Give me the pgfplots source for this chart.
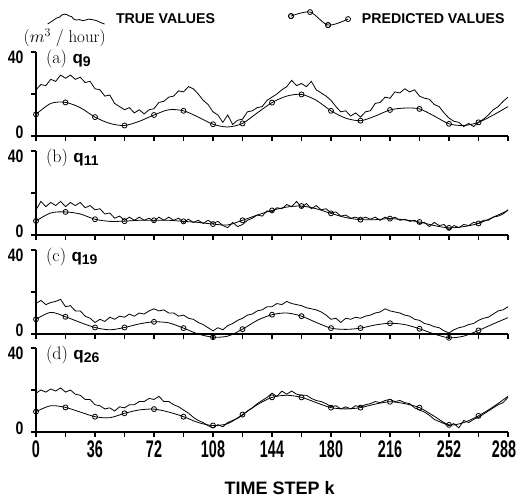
\documentclass[border=0pt]{standalone}
\usepackage{pgfplots}
\pgfplotsset{compat=1.18}
\usepackage{fontspec}
\setsansfont{Liberation Sans}
\newfontfamily\xtickfont{Liberation Sans}[FakeStretch=0.6]
\newfontfamily\ytickfont{Liberation Sans}[FakeStretch=0.78]

\pgfplotsset{
  panel/.style={
    scale only axis, width=472pt, height=84pt,
    xmin=0, xmax=288, ymin=0, ymax=40,
    axis x line=bottom, axis y line=left,
    axis line style={-, line width=1.1pt},
    clip=false,
    xtick={0,18,...,288}, xticklabel=\empty,
    ytick={0,20,40}, yticklabels={0,,40},
    tick align=outside, major tick length=5pt,
    tick style={line width=1.1pt, black},
    yticklabel style={font=\ytickfont\bfseries\fontsize{18}{18}\selectfont,
      xshift=-4pt, yshift={(\ticknum==0)*9pt-5pt}},
    xticklabel style={font=\xtickfont\bfseries\fontsize{24}{24}\selectfont},
  },
  truev/.style={black, line width=0.8pt, mark=none},
  predv/.style={black, line width=0.8pt, smooth, mark=o, mark size=2.5pt,
    mark options={solid, line width=0.8pt},
    mark indices={1,3,5,7,9,11,13,15,17,19,21,23,25,27,29,31}},
}
\tikzset{plab/.style={anchor=west, font=\fontsize{18}{18}\selectfont}}
\newcommand{\qlab}[1]{{\sffamily\bfseries\fontsize{17}{17}\selectfont q}\raisebox{-0.3ex}{\sffamily\bfseries\fontsize{14}{14}\selectfont #1}}

\begin{document}
\begin{tikzpicture}
\useasboundingbox (-36pt,-364pt) rectangle (482pt,136pt);

% (a) q9
\begin{axis}[panel, at={(0pt,0pt)}, anchor=south west,
  legend columns=2,
  legend style={draw=none, fill=none, at={(0.017,1.536)}, anchor=north west,
    font=\sffamily\bfseries\fontsize{14.2}{16}\selectfont,
    /tikz/every odd column/.append style={column sep=9pt},
    /tikz/every even column/.append style={column sep=71pt}},
  ]
\addplot[truev,
  legend image code/.code={\draw[line width=0.8pt] plot coordinates {(0pt,-5pt)(3pt,-3pt)(6pt,-1pt)(9pt,1pt)(12pt,2pt)(14pt,4pt)(17pt,5pt)(19pt,4.5pt)(22pt,3pt)(24pt,2.5pt)(26pt,0pt)(29pt,-1pt)(32pt,-0.5pt)(35pt,-1.5pt)(38pt,-1pt)(41pt,0pt)(44pt,-0.5pt)(47pt,-1pt)(50pt,-2pt)(53pt,-3.5pt)(57pt,-5pt)};}
  ] coordinates {
(0,22) (3,24.5) (6,24) (9,27) (12,26) (15,29) (18,27.5) (21,29) (24,27) (27,28) (30,25.5) (33,26) (36,22.5) (39,22) (42,19) (45,19.5) (48,15.5) (51,14) (54,12.5) (57,13.5) (60,11) (63,12.5) (66,10.5) (69,12.5) (72,13) (75,16) (78,16.5) (81,18.5) (84,19) (87,21.5) (90,21) (93,23.5) (96,22.5) (99,20) (102,17) (105,15) (108,11.5) (111,10) (114,6.5) (117,10) (120,5.5) (123,7.5) (126,8) (129,11.5) (132,12) (135,13.5) (138,14) (141,17) (144,18.5) (147,20) (150,22) (153,23.5) (156,26.5) (159,24) (162,25) (165,23.5) (168,26) (171,22) (174,20.5) (177,19) (180,17) (183,14) (186,11.5) (189,12) (192,9.5) (195,11) (198,9) (201,11.5) (204,12) (207,15.5) (210,16) (213,18.5) (216,18) (219,21) (222,20.5) (225,22.5) (228,21) (231,22) (234,19) (237,18) (240,17.5) (243,15) (246,14) (249,11) (252,8.5) (255,7) (258,6.5) (261,4.5) (264,6) (267,4.5) (270,6.5) (273,8) (276,10) (279,12.5) (282,14) (285,16.5) (288,18.5)
};
\addlegendentry{TRUE VALUES}
\addplot[predv,
  legend image code/.code={\draw[line width=0.8pt] plot[smooth] coordinates {(0pt,3pt)(19pt,7pt)(37pt,-6pt)(57pt,0pt)};
    \draw[line width=0.8pt] (0pt,3pt) circle (2.5pt) (19pt,7pt) circle (2.5pt) (37pt,-6pt) circle (2.5pt) (57pt,0pt) circle (2.5pt);}
  ] coordinates {
(0,10.3) (9,15.5) (18,16) (27,13.5) (36,9) (45,6) (54,5) (63,7) (72,10) (81,12.5) (90,12) (99,9) (108,5.6) (117,4.3) (126,6) (135,11) (144,15.9) (153,19) (162,19.8) (171,17) (180,12) (189,8.5) (198,7.3) (207,9.5) (216,12.4) (225,13.3) (234,12.9) (243,9.5) (252,5.8) (261,5) (270,6.5) (279,10) (288,14)
};
\addlegendentry{PREDICTED VALUES}
\node[font=\fontsize{17}{17}\selectfont] at (axis description cs:0.061,1.173) {$(m^3\;/\;\mathrm{hour})$};
\node[plab] at (axis cs:4,36.5) {(a) \qlab{9}};
\end{axis}

% (b) q11
\begin{axis}[panel, at={(0pt,-99pt)}, anchor=south west]
\addplot[truev] coordinates {
(0,12) (3,16) (6,13.5) (9,15.5) (12,14) (15,16) (18,13.5) (21,15.5) (24,14) (27,15.5) (30,13) (33,14) (36,12) (39,12.5) (42,10) (45,10.5) (48,8) (51,9) (54,7) (57,8.5) (60,7) (63,8.5) (66,7) (69,8) (72,6.5) (75,8.5) (78,7) (81,8.5) (84,7) (87,8) (90,6) (93,7.5) (96,6) (99,7) (102,5.5) (105,7) (108,5.5) (111,6.5) (114,4.5) (117,3.5) (120,6) (123,4) (126,5) (129,7) (132,8) (135,9.5) (138,9) (141,11.5) (144,11) (147,13) (150,12.5) (153,14.5) (156,13.5) (159,16) (162,13) (165,15) (168,12.5) (171,14) (174,12) (177,12.5) (180,10.5) (183,11) (186,9) (189,9.5) (192,8) (195,8.5) (198,7.5) (201,8.5) (204,7.5) (207,8.5) (210,7) (213,8.5) (216,7.5) (219,8.5) (222,7) (225,7.5) (228,6.5) (231,7) (234,5.5) (237,6) (240,4) (243,6) (246,4.5) (249,5) (252,2.5) (255,4.5) (258,3.5) (261,5) (264,4.5) (267,6) (270,5.5) (273,7) (276,7) (279,8.5) (282,9) (285,10) (288,12)
};
\addplot[predv] coordinates {
(0,6.7) (9,10.5) (18,11) (27,10) (36,7.5) (45,6.5) (54,6.6) (63,7) (72,7) (81,7) (90,6.5) (99,6) (108,5.2) (117,4.8) (126,7) (135,9.5) (144,11.7) (153,13.3) (162,13.8) (171,12.5) (180,10.3) (189,8.3) (198,7.3) (207,7.3) (216,7.8) (225,7.2) (234,6.2) (243,4.5) (252,3.4) (261,4) (270,5.5) (279,8.5) (288,11.7)
};
\node[plab] at (axis cs:4,36.5) {(b) \qlab{11}};
\end{axis}

% (c) q19
\begin{axis}[panel, at={(0pt,-198pt)}, anchor=south west]
\addplot[truev] coordinates {
(0,14.5) (3,16) (6,14) (9,15) (12,15.5) (15,16.5) (18,13) (21,13.5) (24,11) (27,11) (30,8.5) (33,7.5) (36,5.5) (39,7) (42,6) (45,8) (48,7) (51,8.5) (54,8) (57,9.5) (60,8.5) (63,10) (66,9.5) (69,11) (72,12) (75,11) (78,11.5) (81,10) (84,10) (87,8.5) (90,9) (93,7.5) (96,7) (99,5.5) (102,4.5) (105,3) (108,1.5) (111,3) (114,2) (117,4) (120,5) (123,6.5) (126,7.5) (129,9) (132,9.5) (135,11) (138,11.5) (141,13) (144,13) (147,14.5) (150,14) (153,15.5) (156,14.5) (159,14) (162,13.5) (165,12.5) (168,12) (171,11.5) (174,10.5) (177,9) (180,7) (183,7.5) (186,5.5) (189,7.5) (192,7) (195,8) (198,7.5) (201,8.5) (204,9) (207,10) (210,10.5) (213,12) (216,11) (219,10.5) (222,10) (225,9) (228,8.5) (231,7) (234,6.5) (237,5) (240,4.5) (243,3.5) (246,3) (249,1.5) (252,0.5) (255,2) (258,3) (261,3.5) (264,4.5) (267,5) (270,6.5) (273,7.5) (276,8) (279,9.5) (282,11) (285,11.5) (288,13)
};
\addplot[predv] coordinates {
(0,7) (9,10.3) (18,8.2) (27,5.5) (36,3.1) (45,2) (54,3.1) (63,4.8) (72,5.8) (81,5.3) (90,2.8) (99,0) (108,-1.5) (117,-1) (126,2.3) (135,6.5) (144,9.2) (153,10) (162,8.5) (171,5.5) (180,2.8) (189,2.2) (198,2.8) (207,4.3) (216,5.1) (225,4.5) (234,2.5) (243,0) (252,-1.8) (261,-1) (270,1.7) (279,4.8) (288,7.8)
};
\node[plab] at (axis cs:4,36.5) {(c) \qlab{19}};
\end{axis}

% (d) q26
\begin{axis}[panel, at={(0pt,-296pt)}, anchor=south west,
  xticklabels={0,,36,,72,,108,,144,,180,,216,,252,,\kern-8pt288},
  xlabel={TIME STEP k},
  xlabel style={font=\sffamily\bfseries\fontsize{18}{18}\selectfont,
    at={(axis description cs:0.516,-0.667)}, anchor=center},
  ]
\addplot[truev] coordinates {
(0,18.5) (3,20) (6,19) (9,20.5) (12,19.5) (15,21) (18,19) (21,20) (24,18) (27,17.5) (30,15.5) (33,15.5) (36,13) (39,12.5) (42,11) (45,11.5) (48,10) (51,12) (54,11.5) (57,13) (60,13) (63,14.5) (66,14.5) (69,16) (72,15.5) (75,17) (78,14.5) (81,14.5) (84,13) (87,12) (90,10.5) (93,9) (96,7) (99,5.5) (102,4.5) (105,3) (108,2) (111,3.5) (114,2.5) (117,4.5) (120,5.5) (123,6.5) (126,8) (129,10) (132,11.5) (135,13.5) (138,15) (141,16.5) (144,18.5) (147,17) (150,19.5) (153,18) (156,19.5) (159,18) (162,17.5) (165,17.5) (168,16) (171,15) (174,14.5) (177,13.5) (180,12) (183,12.5) (186,11) (189,12) (192,11) (195,12.5) (198,12) (201,13) (204,13.5) (207,14.5) (210,14) (213,15) (216,15.5) (219,14.5) (222,15) (225,14) (228,13.5) (231,11.5) (234,10.5) (237,9.5) (240,8) (243,6) (246,5) (249,4) (252,3) (255,4) (258,2) (261,5.5) (264,4.5) (267,6) (270,7) (273,8.5) (276,10) (279,11.5) (282,13) (285,14) (288,16.5)
};
\addplot[predv] coordinates {
(0,9.7) (9,12.5) (18,11.7) (27,9.5) (36,7.3) (45,6.8) (54,8.9) (63,10.5) (72,10.9) (81,9.5) (90,7.3) (99,4.5) (108,3.1) (117,4) (126,8.3) (135,13) (144,16.5) (153,17.5) (162,16.5) (171,14) (180,11.6) (189,11) (198,11.6) (207,13.3) (216,14.4) (225,13.5) (234,11.6) (243,7.5) (252,3.4) (261,4.5) (270,7.7) (279,12) (288,17)
};
\node[plab] at (axis cs:4,36.5) {(d) \qlab{26}};
\end{axis}
\end{tikzpicture}
\end{document}
